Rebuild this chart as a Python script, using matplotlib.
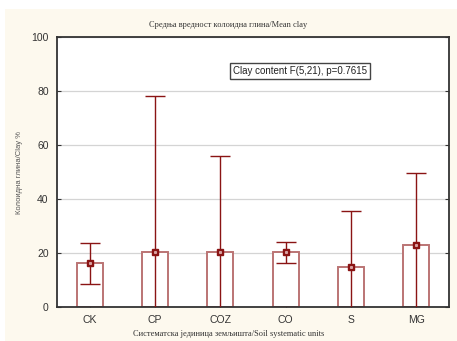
import matplotlib.pyplot as plt
from matplotlib.patches import Rectangle

# Mean clay content per soil unit, with 95% CI half-widths
units = ["CK", "CP", "COZ", "CO", "S", "MG"]
means = [16.2, 20.2, 20.4, 20.2, 14.8, 22.9]
ci = [7.6, 57.9, 35.7, 4.0, 20.9, 26.6]

yticks = [0, 20, 40, 60, 80, 100]

bar_edge = "#bb7474"
err_col = "#8a1414"

fig = plt.figure(figsize=(4.57, 3.41), dpi=100, facecolor="white")
# cream panel behind the plot
fig.add_artist(Rectangle((5 / 457, 0), 452 / 457, 332 / 341,
                         transform=fig.transFigure, facecolor="#fdf9ee",
                         edgecolor="none", zorder=-10))

ax = fig.add_axes([57 / 457, 34 / 341, 392 / 457, 270 / 341])
ax.set_zorder(1)
ax.set_facecolor("white")

x = list(range(len(units)))
ax.bar(x, means, width=0.4, facecolor="white", edgecolor=bar_edge,
       linewidth=1.4, zorder=2)
ax.errorbar(x, means, yerr=ci, fmt="s", color=err_col, ecolor=err_col,
            elinewidth=1.0, capsize=7, capthick=1.0, markersize=4.5,
            markerfacecolor=err_col, markeredgecolor=err_col, zorder=3)
ax.plot(x, means, "s", color="#d8a0a0", markersize=1.2, linestyle="none", zorder=4)

ax.set_xlim(-0.5, len(units) - 0.5)
ax.set_ylim(0, 100)
ax.set_xticks(x)
ax.set_xticklabels(units)
ax.set_yticks(yticks)
ax.grid(axis="y", color="#d4d4d4", linewidth=0.9, zorder=0)
ax.set_axisbelow(True)

ax.tick_params(axis="both", labelsize=7.5, labelcolor="#333333", colors="#333333")
ax.tick_params(axis="x", direction="in", length=2, pad=6)
ax.tick_params(axis="y", direction="in", length=3, right=True, pad=6)
for t in ax.get_xticklabels() + ax.get_yticklabels():
    t.set_family("Liberation Sans")

for s in ax.spines.values():
    s.set_color("#333333")
    s.set_linewidth(1.3)

ax.text(0.62, 0.874, "Clay content F(5,21), p=0.7615", transform=ax.transAxes,
        ha="center", va="center", fontsize=7, family="Liberation Sans",
        color="#222222",
        bbox=dict(boxstyle="square,pad=0.3", facecolor="white",
                  edgecolor="#444444", linewidth=1.0))

fig.text(0.5, 1 - 25 / 341, "Средња вредност колоидна глина/Mean clay",
         ha="center", va="center", fontsize=6, family="Liberation Serif",
         color="#333333")
fig.text(0.5, 1 - 334 / 341, "Систематска јединица земљишта/Soil systematic units",
         ha="center", va="center", fontsize=6, family="Liberation Serif",
         color="#333333")
fig.text(20 / 457, 1 - 172 / 341, "Колоидна глина/Clay %", rotation=90,
         ha="center", va="center", fontsize=5.5, family="Liberation Sans",
         color="#555555")

plt.savefig("out.png", dpi=100)
